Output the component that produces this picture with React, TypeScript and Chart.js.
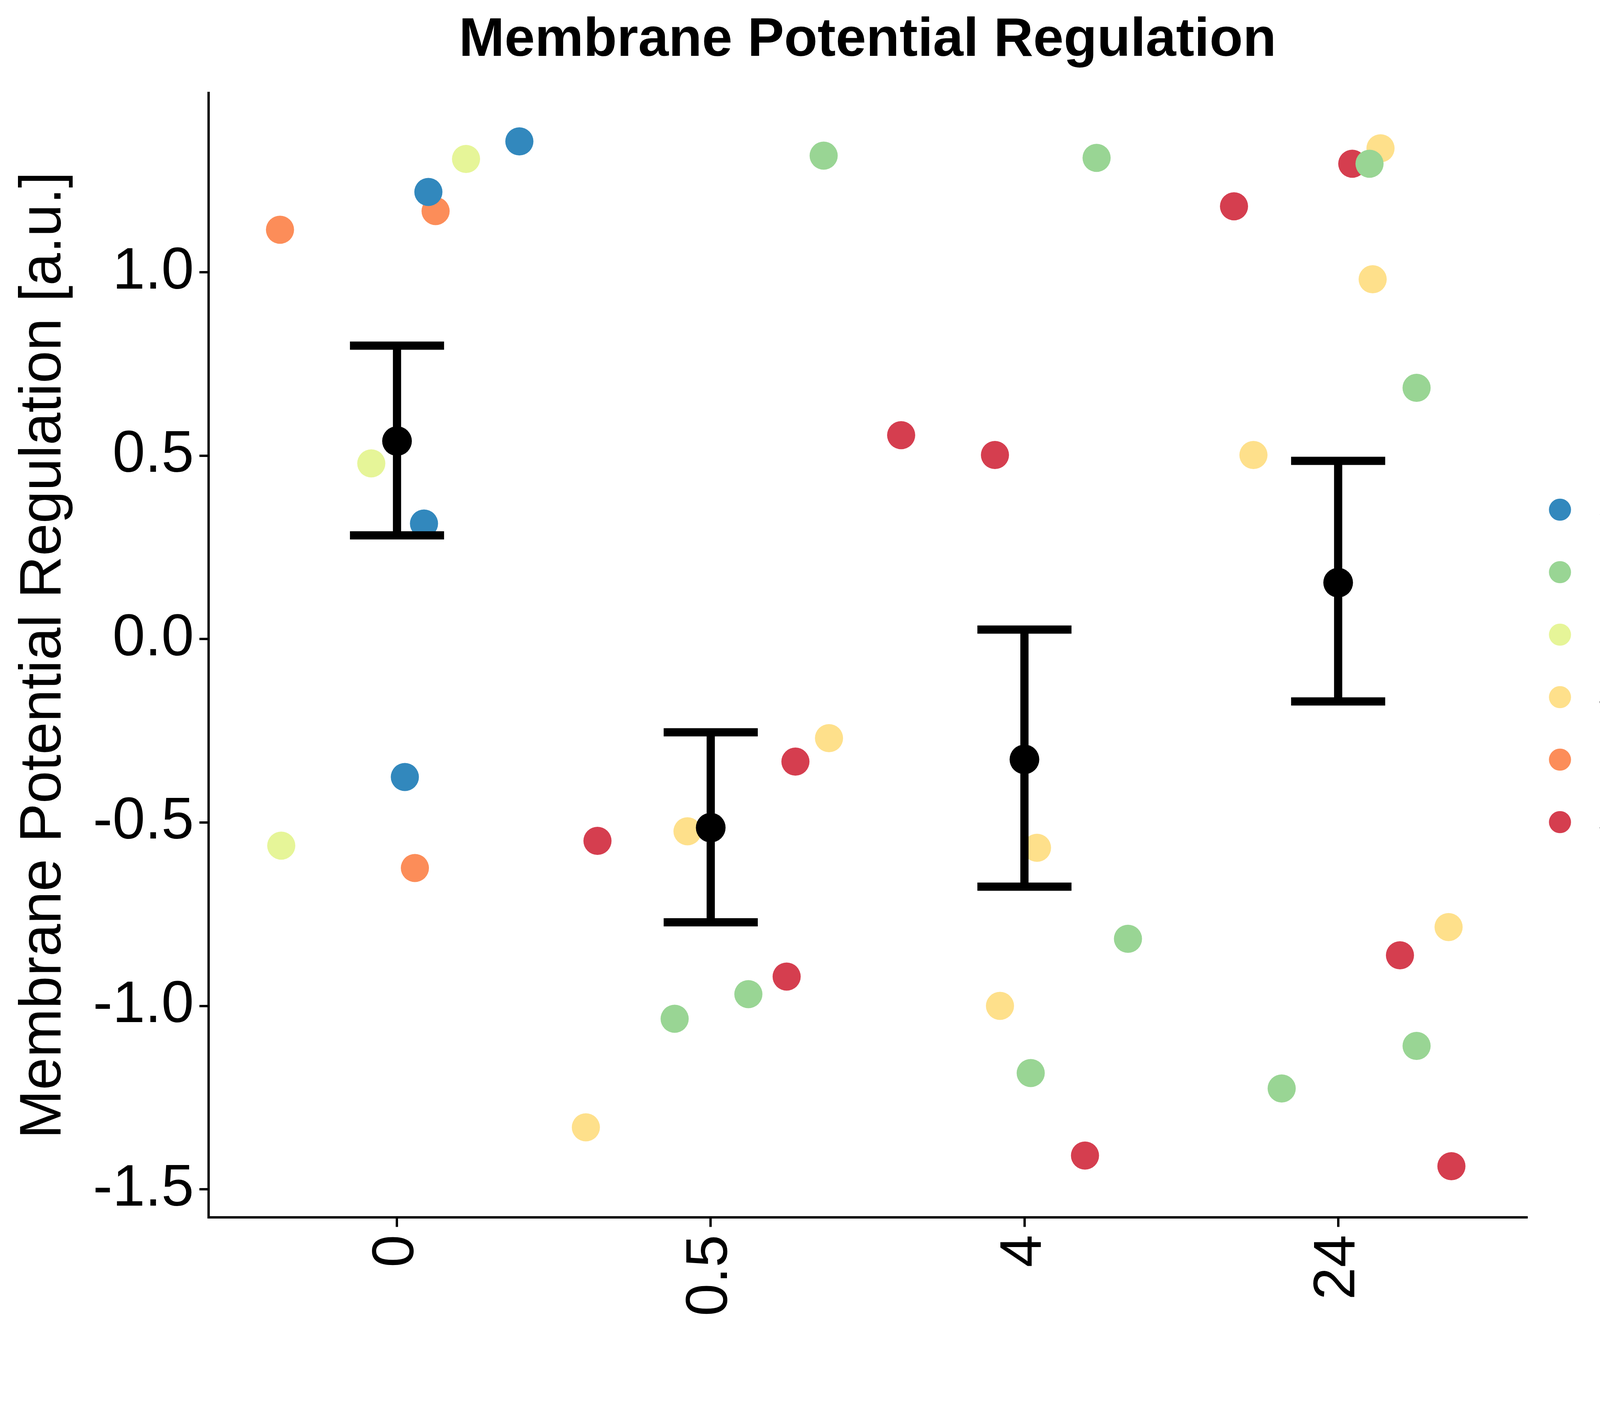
import { useEffect, useRef } from "react";
import { Chart, registerables } from "chart.js";

Chart.register(...registerables);

const xLabels = ["0", "0.5", "4", "24"];
const yTicks = [-1.5, -1.0, -0.5, 0.0, 0.5, 1.0];

const groups = ["Sham", "1xCHI", "pre-3xCHI", "3xCHI", "pre-5xCHI", "5xCHI"];
const groupColors = ["#3288BD", "#99D594", "#E6F598", "#FEE08B", "#FC8D59", "#D53E4F"];

// jittered x position (1..4 = category) and value, per group
const shamX = [1.1, 1.39, 1.086, 1.025];
const shamY = [1.219, 1.357, 0.315, -0.376];
const chi1X = [2.36, 3.23, 4.1, 4.25, 1.885, 2.12, 3.33, 3.02, 3.82, 4.25];
const chi1Y = [1.318, 1.312, 1.296, 0.685, -1.035, -0.968, -0.817, -1.183, -1.225, -1.109];
const pre3X = [1.22, 0.918, 0.631];
const pre3Y = [1.309, 0.479, -0.563];
const chi3X = [4.135, 4.11, 3.73, 2.377, 1.926, 3.04, 2.922, 1.602, 4.352];
const chi3Y = [1.338, 0.981, 0.502, -0.27, -0.524, -0.569, -1.0, -1.331, -0.785];
const pre5X = [0.627, 1.123, 1.057];
const pre5Y = [1.116, 1.167, -0.624];
const chi5X = [4.045, 3.668, 2.607, 2.906, 2.27, 1.639, 2.242, 4.197, 3.193, 4.361];
const chi5Y = [1.296, 1.18, 0.556, 0.502, -0.334, -0.55, -0.92, -0.862, -1.408, -1.437];

const meanY = [0.54, -0.514, -0.328, 0.154];
const upperY = [0.8, -0.254, 0.026, 0.486];
const lowerY = [0.283, -0.772, -0.675, -0.17];

const groupXs = [shamX, chi1X, pre3X, chi3X, pre5X, chi5X];
const groupYs = [shamY, chi1Y, pre3Y, chi3Y, pre5Y, chi5Y];

const errorBars = {
  id: "errorBars",
  afterDatasetsDraw(chart: any) {
    const { ctx, scales } = chart;
    const xs = scales.x;
    const ys = scales.y;
    ctx.save();
    ctx.strokeStyle = "#000";
    ctx.lineWidth = 21;
    ctx.lineCap = "butt";
    meanY.forEach((_, i) => {
      const cx = xs.getPixelForValue(i + 1);
      const l = xs.getPixelForValue(i + 1 - 0.15);
      const r = xs.getPixelForValue(i + 1 + 0.15);
      const t = ys.getPixelForValue(upperY[i]);
      const b = ys.getPixelForValue(lowerY[i]);
      ctx.beginPath();
      ctx.moveTo(cx, t);
      ctx.lineTo(cx, b);
      ctx.moveTo(l, t);
      ctx.lineTo(r, t);
      ctx.moveTo(l, b);
      ctx.lineTo(r, b);
      ctx.stroke();
    });
    ctx.fillStyle = "#000";
    meanY.forEach((m, i) => {
      ctx.beginPath();
      ctx.arc(xs.getPixelForValue(i + 1), ys.getPixelForValue(m), 38, 0, Math.PI * 2);
      ctx.fill();
    });
    ctx.restore();
  },
};

export default function App() {
  const canvasRef = useRef<HTMLCanvasElement | null>(null);
  const chartRef = useRef<Chart | null>(null);

  useEffect(() => {
    document.body.style.margin = "0";
    if (chartRef.current) chartRef.current.destroy();
    const ctx = canvasRef.current!.getContext("2d")!;

    chartRef.current = new Chart(ctx, {
      type: "scatter",
      data: {
        datasets: groups.map((g, gi) => ({
          label: g,
          data: groupXs[gi].map((x, i) => ({ x, y: groupYs[gi][i] })),
          backgroundColor: groupColors[gi],
          borderWidth: 0,
          pointRadius: 36,
          pointHoverRadius: 36,
        })),
      },
      plugins: [errorBars],
      options: {
        animation: false,
        responsive: true,
        maintainAspectRatio: false,
        layout: { padding: { left: 20, right: 60, top: 20, bottom: 210 } },
        plugins: {
          tooltip: { enabled: false },
          title: {
            display: true,
            text: "Membrane Potential Regulation",
            fullSize: false,
            color: "#000",
            font: { family: "Liberation Sans", size: 140, weight: "bold" },
            padding: { top: 0, bottom: 50 },
          },
          legend: {
            position: "right",
            labels: {
              usePointStyle: true,
              pointStyle: "circle",
              boxWidth: 80,
              boxHeight: 40,
              padding: 46,
              color: "#000",
              font: { family: "Liberation Sans", size: 114 },
            },
          },
        },
        scales: {
          x: {
            type: "linear",
            min: 0.4,
            max: 4.6,
            afterBuildTicks: (axis: any) => {
              axis.ticks = xLabels.map((_, i) => ({ value: i + 1 }));
            },
            ticks: {
              color: "#000",
              font: { family: "Liberation Sans", size: 150 },
              minRotation: 90,
              maxRotation: 90,
              padding: 20,
              callback: (v: any) => xLabels[Number(v) - 1] ?? "",
            },
            grid: { drawOnChartArea: false, drawTicks: true, tickLength: 24, color: "#000", lineWidth: 6 },
            border: { display: true, color: "#000", width: 6 },
          },
          y: {
            type: "linear",
            min: -1.577,
            max: 1.489,
            afterBuildTicks: (axis: any) => {
              axis.ticks = yTicks.map((v) => ({ value: v }));
            },
            ticks: {
              color: "#000",
              font: { family: "Liberation Sans", size: 150 },
              padding: 14,
              callback: (v: any) => Number(v).toFixed(1),
            },
            title: {
              display: true,
              text: "Membrane Potential Regulation [a.u.]",
              color: "#000",
              font: { family: "Liberation Sans", size: 150 },
              padding: { bottom: 20 },
            },
            grid: { drawOnChartArea: false, drawTicks: true, tickLength: 24, color: "#000", lineWidth: 6 },
            border: { display: true, color: "#000", width: 6 },
          },
        },
      },
    } as any);

    return () => {
      if (chartRef.current) chartRef.current.destroy();
    };
  }, []);

  return (
    <div style={{ position: "relative", width: 4680, height: 3600 }}>
      <canvas ref={canvasRef} />
    </div>
  );
}
